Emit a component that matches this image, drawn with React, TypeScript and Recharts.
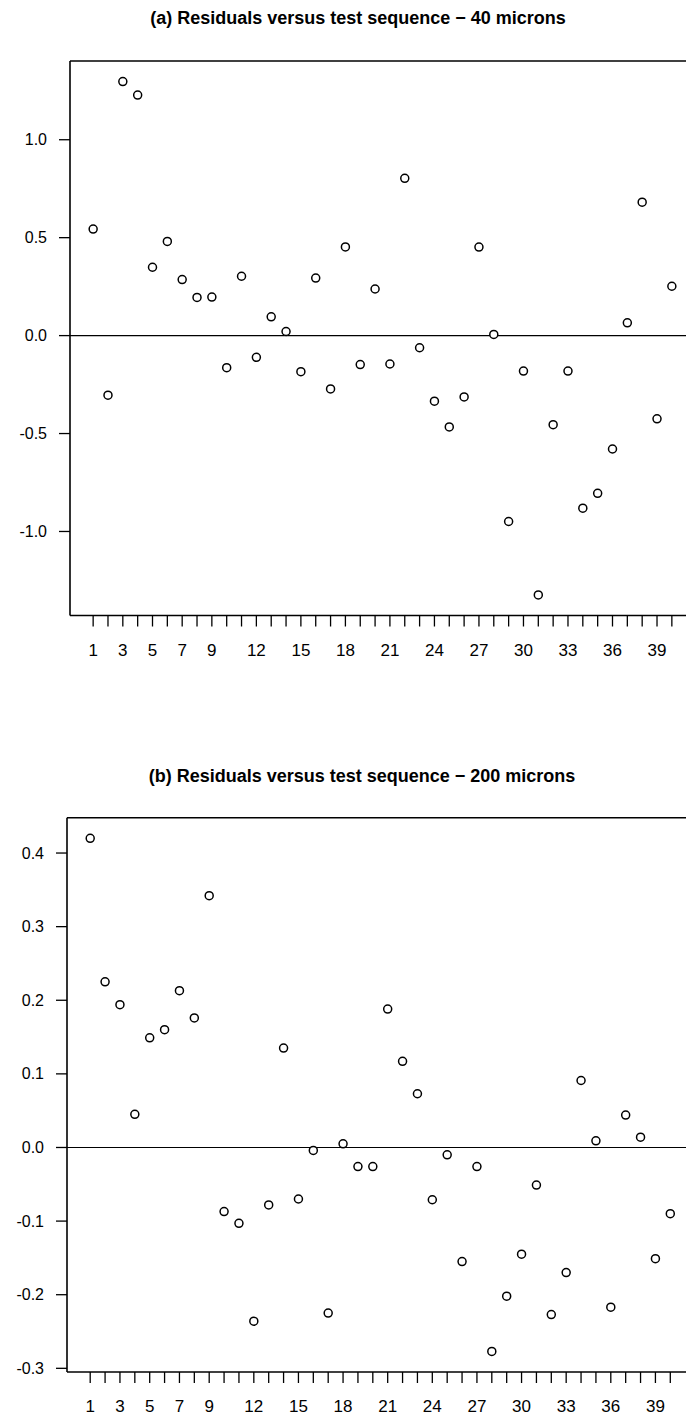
import React from "react";
import { ScatterChart, Scatter, XAxis, YAxis, ReferenceLine } from "recharts";

// test sequence numbers
const sequence = [
  1, 2, 3, 4, 5, 6, 7, 8, 9, 10, 11, 12, 13, 14, 15, 16, 17, 18, 19, 20,
  21, 22, 23, 24, 25, 26, 27, 28, 29, 30, 31, 32, 33, 34, 35, 36, 37, 38, 39, 40,
];

// (a) residuals - 40 microns
const residuals40 = [
  0.544, -0.304, 1.297, 1.228, 0.349, 0.481, 0.286, 0.195, 0.197, -0.164,
  0.303, -0.111, 0.096, 0.021, -0.184, 0.294, -0.272, 0.453, -0.148, 0.238,
  -0.145, 0.803, -0.062, -0.335, -0.466, -0.313, 0.452, 0.006, -0.949, -0.181,
  -1.324, -0.455, -0.181, -0.881, -0.805, -0.579, 0.065, 0.681, -0.425, 0.252,
];

// (b) residuals - 200 microns
const residuals200 = [
  0.42, 0.225, 0.194, 0.045, 0.149, 0.16, 0.213, 0.176, 0.342, -0.087,
  -0.103, -0.236, -0.078, 0.135, -0.07, -0.004, -0.225, 0.005, -0.026, -0.026,
  0.188, 0.117, 0.073, -0.071, -0.01, -0.155, -0.026, -0.277, -0.202, -0.145,
  -0.051, -0.227, -0.17, 0.091, 0.009, -0.217, 0.044, 0.014, -0.151, -0.09,
];

const xTickLabels = [1, 3, 5, 7, 9, 12, 15, 18, 21, 24, 27, 30, 33, 36, 39];
const yTicks40 = [-1.0, -0.5, 0.0, 0.5, 1.0];
const yTicks200 = [-0.3, -0.2, -0.1, 0.0, 0.1, 0.2, 0.3, 0.4];
const xDomain = [-0.56, 41.56];
const yDomain40 = [-1.429, 1.402];
const yDomain200 = [-0.305, 0.448];

const title40 = "(a) Residuals versus test sequence \u2212 40 microns";
const title200 = "(b) Residuals versus test sequence \u2212 200 microns";

const data40 = sequence.map((s, i) => ({ x: s, y: residuals40[i] }));
const data200 = sequence.map((s, i) => ({ x: s, y: residuals200[i] }));

const FONT = "'Liberation Sans', Arial, Helvetica, sans-serif";

const XTick = (props: any) => {
  const { x, y, payload } = props;
  if (!xTickLabels.includes(payload.value)) return <g />;
  return (
    <text
      x={x}
      y={y}
      dy={27}
      textAnchor="middle"
      fontFamily={FONT}
      fontSize={17}
      fill="#000"
    >
      {payload.value}
    </text>
  );
};

const YTick = (props: any) => {
  const { x, y, payload } = props;
  return (
    <text
      x={x}
      y={y}
      dx={-10}
      dy={5.5}
      textAnchor="end"
      fontFamily={FONT}
      fontSize={16}
      fill="#000"
    >
      {payload.value.toFixed(1)}
    </text>
  );
};

const Dot = (props: any) => {
  const { cx, cy } = props;
  return <circle cx={cx} cy={cy} r={4} fill="#fff" stroke="#000" strokeWidth={1.5} />;
};

const Title = ({ text, top, center }: { text: string; top: number; center: number }) => (
  <div
    style={{
      position: "absolute",
      top,
      left: center - 300,
      width: 600,
      textAlign: "center",
      fontFamily: FONT,
      fontWeight: "bold",
      fontSize: 18,
      lineHeight: "20px",
      color: "#000",
      whiteSpace: "nowrap",
    }}
  >
    {text}
  </div>
);

interface PanelProps {
  data: { x: number; y: number }[];
  yDomain: number[];
  yTicks: number[];
  top: number;
  height: number;
  margin: { top: number; right: number; bottom: number; left: number };
  yWidth: number;
}

const Panel = ({ data, yDomain, yTicks, top, height, margin, yWidth }: PanelProps) => (
  <div style={{ position: "absolute", left: 0, top }}>
    <ScatterChart width={760} height={height} margin={margin}>
      <XAxis
        type="number"
        dataKey="x"
        domain={xDomain}
        ticks={sequence}
        interval={0}
        allowDataOverflow
        tick={<XTick />}
        tickSize={11}
        tickLine={{ stroke: "#000", strokeWidth: 1.3 }}
        axisLine={{ stroke: "#000", strokeWidth: 1.6 }}
        height={40}
      />
      <YAxis
        type="number"
        dataKey="y"
        domain={yDomain}
        ticks={yTicks}
        interval={0}
        allowDataOverflow
        tick={<YTick />}
        tickSize={11}
        tickLine={{ stroke: "#000", strokeWidth: 1.3 }}
        axisLine={{ stroke: "#000", strokeWidth: 1.6 }}
        width={yWidth}
      />
      <ReferenceLine y={0} stroke="#000" strokeWidth={1.2} />
      <ReferenceLine y={yDomain[1]} stroke="#000" strokeWidth={1.6} />
      <Scatter data={data} shape={<Dot />} isAnimationActive={false} />
    </ScatterChart>
  </div>
);

export default function App() {
  return (
    <div
      style={{
        position: "absolute",
        left: 0,
        top: 0,
        width: 686,
        height: 1418,
        overflow: "hidden",
        background: "#fff",
      }}
    >
      <Title text={title40} top={8} center={358} />
      <Panel
        data={data40}
        yDomain={yDomain40}
        yTicks={yTicks40}
        top={0}
        height={690}
        margin={{ top: 61, right: 65, bottom: 34.5, left: 0 }}
        yWidth={70}
      />
      <Title text={title200} top={766} center={362} />
      <Panel
        data={data200}
        yDomain={yDomain200}
        yTicks={yTicks200}
        top={740}
        height={678}
        margin={{ top: 77.7, right: 66.5, bottom: 6, left: 0 }}
        yWidth={67}
      />
    </div>
  );
}
